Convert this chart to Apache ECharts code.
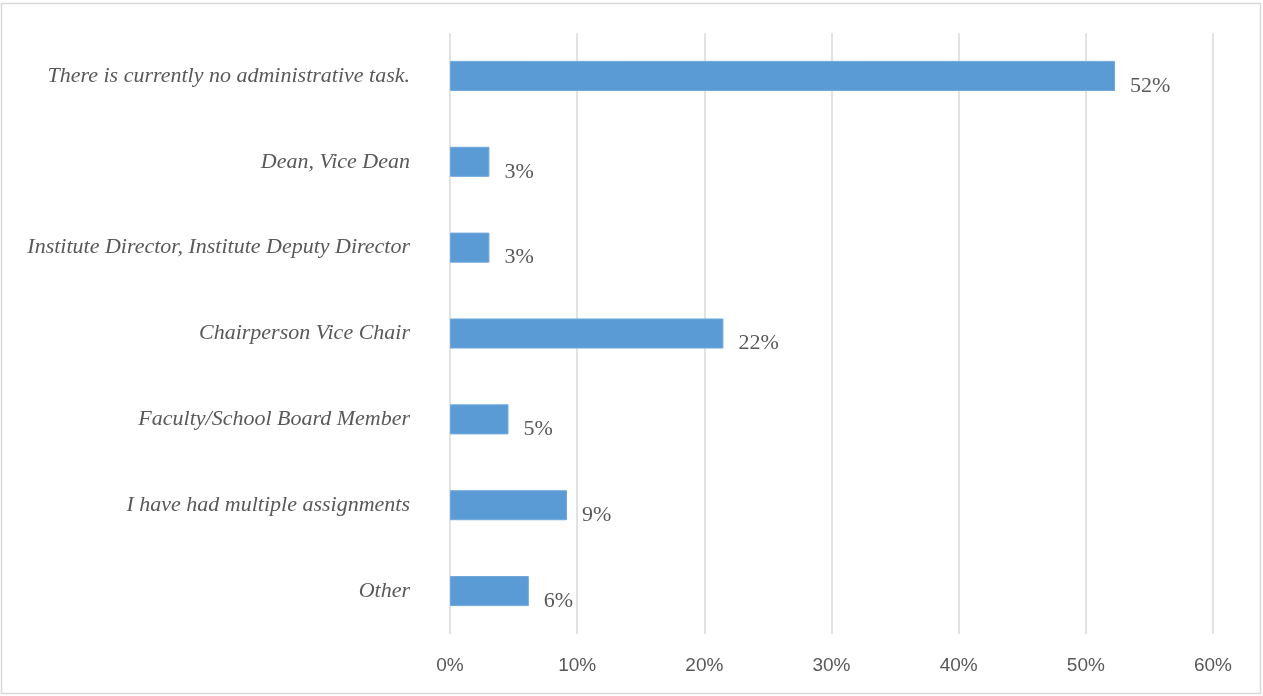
<!DOCTYPE html>
<html>
<head>
<meta charset="utf-8">
<script src="https://cdn.jsdelivr.net/npm/echarts@6/dist/echarts.min.js"></script>
<style>
html,body{margin:0;padding:0;background:#fff;}
#c{width:1263px;height:696px;}
</style>
</head>
<body>
<div id="c"></div>
<script>
const categories = [
  "There is currently no administrative task.",
  "Dean, Vice Dean",
  "Institute Director, Institute Deputy Director",
  "Chairperson Vice Chair",
  "Faculty/School Board Member",
  "I have had multiple assignments",
  "Other"
];
const values = [52.3, 3.1, 3.1, 21.5, 4.6, 9.2, 6.2];
const xTicks = [0, 10, 20, 30, 40, 50, 60];

const chart = echarts.init(document.getElementById('c'));
chart.setOption({
  backgroundColor: '#fff',
  animation: false,
  graphic: [{
    type: 'rect',
    shape: {x: 1.5, y: 3.5, width: 1259, height: 690},
    style: {fill: 'none', stroke: '#d9d9d9', lineWidth: 1.5},
    silent: true
  }],
  grid: {left: 450, right: 50, top: 33, bottom: 62, containLabel: false},
  xAxis: {
    type: 'value',
    min: xTicks[0],
    max: xTicks[xTicks.length - 1],
    interval: 10,
    axisLine: {show: false},
    axisTick: {show: false},
    splitLine: {show: true, lineStyle: {color: '#d9d9d9', width: 1.5}},
    axisLabel: {
      formatter: v => v + '%',
      color: '#595959',
      fontFamily: 'Liberation Sans, Arial, sans-serif',
      fontSize: 19,
      margin: 22
    }
  },
  yAxis: {
    type: 'category',
    data: categories,
    inverse: true,
    axisLine: {show: false},
    axisTick: {show: false},
    axisLabel: {
      color: '#595959',
      fontFamily: 'Liberation Serif, serif',
      fontStyle: 'italic',
      fontSize: 22,
      margin: 40,
      padding: [6, 0, 0, 0]
    }
  },
  series: [{
    type: 'bar',
    data: values,
    barWidth: '35%',
    itemStyle: {color: '#5b9bd5', borderColor: '#6fa8dc', borderWidth: 1},
    label: {
      show: true,
      position: 'right',
      distance: 15,
      offset: [0, 10],
      formatter: p => Math.round(p.value) + '%',
      color: '#595959',
      fontFamily: 'Liberation Serif, serif',
      fontSize: 22
    }
  }]
});
</script>
</body>
</html>
